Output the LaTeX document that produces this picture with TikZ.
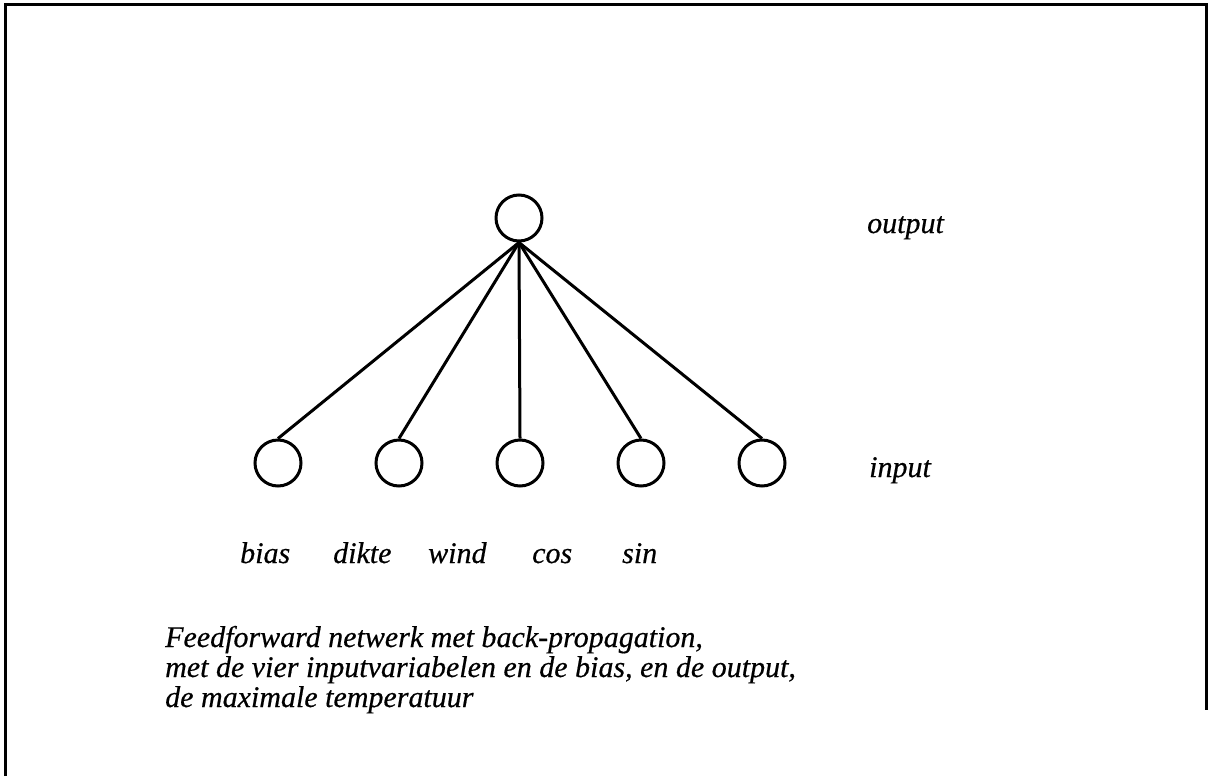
\documentclass[tikz,border=0pt]{standalone}
\usepackage{fontspec}
\setmainfont{Liberation Serif}
\newfontfamily\capfont{Liberation Serif Italic}[FakeBold=0.5]
\begin{document}
\begin{tikzpicture}[x=1pt,y=-1pt,
  neuron/.style={circle,draw,line width=3pt,minimum size=46pt,inner sep=0pt},
  link/.style={line width=3pt},
  lbl/.style={anchor=base west,inner sep=0pt,font=\capfont\fontsize{30}{30}\selectfont},
  captext/.style={anchor=base west,inner sep=0pt,font=\capfont\fontsize{30}{30}\selectfont}]
\useasboundingbox (0,0) rectangle (1209,776);
\draw[line width=3pt] (5,776) -- (5,5) -- (1206,5) -- (1206,710);
\node[neuron] (out) at (519,218) {};
\node[neuron] (i1) at (278,463) {};
\node[neuron] (i2) at (399,463) {};
\node[neuron] (i3) at (520,463) {};
\node[neuron] (i4) at (641,463) {};
\node[neuron] (i5) at (762,463) {};
\foreach \n in {i1,i2,i3,i4,i5}
  \draw[link] (out.south) -- (\n.north);
\node[lbl] (lout) at (867,233) {output};
\node[lbl] (lin) at (869,477) {input};
\node[lbl] (lbias) at (240,563) {bias};
\node[lbl] (ldikte) at (333,563) {dikte};
\node[lbl] (lwind) at (428,563) {wind};
\node[lbl] (lcos) at (532,563) {cos};
\node[lbl] (lsin) at (622,563) {sin};
\node[captext] (cap1) at (165,647) {Feedforward netwerk met back-propagation,};
\node[captext] (cap2) at (165,677) {met de vier inputvariabelen en de bias, en de output,};
\node[captext] (cap3) at (165,707) {de maximale temperatuur};
\end{tikzpicture}
\end{document}
